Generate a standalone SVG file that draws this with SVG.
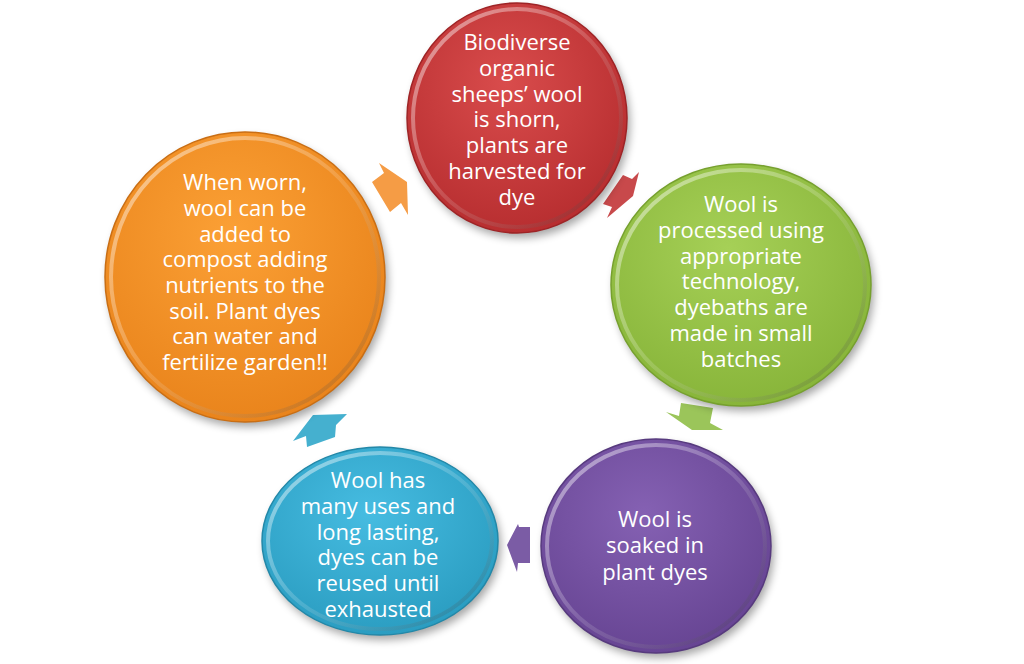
<svg xmlns="http://www.w3.org/2000/svg" width="1024" height="664" viewBox="0 0 1024 664">
<style>
.lbl{font-family:"Open Sans","Noto Sans","DejaVu Sans",sans-serif;font-size:22px;fill:#ffffff;text-anchor:middle}
.rim{fill:none;stroke:url(#rimG);stroke-width:4}
.edge{stroke-width:1.5}
.shadow{fill:#000;opacity:0.35;filter:url(#blur)}
.arrow{stroke:none}
</style>
<defs>
<filter id="blur" x="-20%" y="-20%" width="140%" height="140%"><feGaussianBlur stdDeviation="4"/></filter>
<filter id="ablur" x="-30%" y="-30%" width="160%" height="160%"><feGaussianBlur stdDeviation="1.5"/></filter>
<linearGradient id="rimG" x1="0" y1="0" x2="1" y2="1">
<stop offset="0" stop-color="#ffffff" stop-opacity="0.55"/>
<stop offset="0.5" stop-color="#ffffff" stop-opacity="0.15"/>
<stop offset="1" stop-color="#000000" stop-opacity="0.2"/>
</linearGradient>
<radialGradient id="gRed" cx="0.45" cy="0.35" r="0.7"><stop offset="0" stop-color="#d94c4c"/><stop offset="1" stop-color="#b52c2e"/></radialGradient>
<radialGradient id="gGreen" cx="0.45" cy="0.35" r="0.7"><stop offset="0" stop-color="#a6d057"/><stop offset="1" stop-color="#86b338"/></radialGradient>
<radialGradient id="gPurple" cx="0.45" cy="0.35" r="0.7"><stop offset="0" stop-color="#8561b3"/><stop offset="1" stop-color="#654391"/></radialGradient>
<radialGradient id="gCyan" cx="0.45" cy="0.35" r="0.7"><stop offset="0" stop-color="#46bce1"/><stop offset="1" stop-color="#299bbf"/></radialGradient>
<radialGradient id="gOrange" cx="0.45" cy="0.35" r="0.7"><stop offset="0" stop-color="#fba035"/><stop offset="1" stop-color="#e8821a"/></radialGradient>
</defs>
<rect width="1024" height="664" fill="#ffffff"/>

<g id="connectors">
<polygon class="arrow" fill="#f59c45" points="372,182 384,173 379,163 407,182 408,215 401,203 390,212"/>
<polygon class="arrow" fill="#c8494b" points="623,175 632,179 639,172 633,196 607,218 612,207 603,204"/>
<polygon class="arrow" fill="#9bc55a" points="681,403 713,408 710,423 723,430 692,430 666,412 679,416"/>
<polygon class="arrow" fill="#7b5ca5" points="530,527 519,527 518,524 507,545 517,572 518,563 530,563"/>
<polygon class="arrow" fill="#45b0cf" points="293,441 313,415 347,414 336,425 335,437 307,447 306,436"/>
</g>

<g id="node-red">
<ellipse class="shadow" cx="520" cy="123" rx="110" ry="115"/>
<ellipse cx="517" cy="118" rx="110" ry="115" fill="url(#gRed)" stroke="#9e2426" class="edge"/>
<ellipse class="rim" cx="517" cy="118" rx="104" ry="109"/>
<text class="lbl" x="517" y="50">Biodiverse</text>
<text class="lbl" x="517" y="76">organic</text>
<text class="lbl" x="517" y="102">sheeps’  wool</text>
<text class="lbl" x="517" y="127">is shorn,</text>
<text class="lbl" x="517" y="153">plants are</text>
<text class="lbl" x="517" y="179">harvested for</text>
<text class="lbl" x="517" y="205">dye</text>
</g>

<g id="node-green">
<ellipse class="shadow" cx="744" cy="290" rx="130" ry="121"/>
<ellipse cx="741" cy="285" rx="130" ry="121" fill="url(#gGreen)" stroke="#76a02e" class="edge"/>
<ellipse class="rim" cx="741" cy="285" rx="124" ry="115"/>
<text class="lbl" x="741" y="212">Wool is</text>
<text class="lbl" x="741" y="238">processed using</text>
<text class="lbl" x="741" y="264">appropriate</text>
<text class="lbl" x="741" y="289">technology,</text>
<text class="lbl" x="741" y="315">dyebaths are</text>
<text class="lbl" x="741" y="341">made in small</text>
<text class="lbl" x="741" y="367">batches</text>
</g>

<g id="node-purple">
<ellipse class="shadow" cx="659" cy="551" rx="115" ry="107"/>
<ellipse cx="656" cy="546" rx="115" ry="107" fill="url(#gPurple)" stroke="#573a7e" class="edge"/>
<ellipse class="rim" cx="656" cy="546" rx="109" ry="101"/>
<text class="lbl" x="655" y="527">Wool is</text>
<text class="lbl" x="655" y="553">soaked in</text>
<text class="lbl" x="655" y="580">plant dyes</text>
</g>

<g id="node-cyan">
<ellipse class="shadow" cx="383" cy="546" rx="118" ry="94"/>
<ellipse cx="380" cy="541" rx="118" ry="94" fill="url(#gCyan)" stroke="#2388a8" class="edge"/>
<ellipse class="rim" cx="380" cy="541" rx="112" ry="88"/>
<text class="lbl" x="378" y="488">Wool has</text>
<text class="lbl" x="378" y="514">many uses and</text>
<text class="lbl" x="378" y="540">long lasting,</text>
<text class="lbl" x="378" y="565">dyes can be</text>
<text class="lbl" x="378" y="591">reused until</text>
<text class="lbl" x="378" y="617">exhausted</text>
</g>

<g id="node-orange">
<ellipse class="shadow" cx="248" cy="282" rx="140" ry="145"/>
<ellipse cx="245" cy="277" rx="140" ry="145" fill="url(#gOrange)" stroke="#c96e14" class="edge"/>
<ellipse class="rim" cx="245" cy="277" rx="134" ry="139"/>
<text class="lbl" x="245" y="190">When worn,</text>
<text class="lbl" x="245" y="216">wool can be</text>
<text class="lbl" x="245" y="242">added to</text>
<text class="lbl" x="245" y="267">compost adding</text>
<text class="lbl" x="245" y="293">nutrients to the</text>
<text class="lbl" x="245" y="319">soil. Plant dyes</text>
<text class="lbl" x="245" y="344">can water and</text>
<text class="lbl" x="245" y="370">fertilize garden!!</text>
</g>
</svg>
